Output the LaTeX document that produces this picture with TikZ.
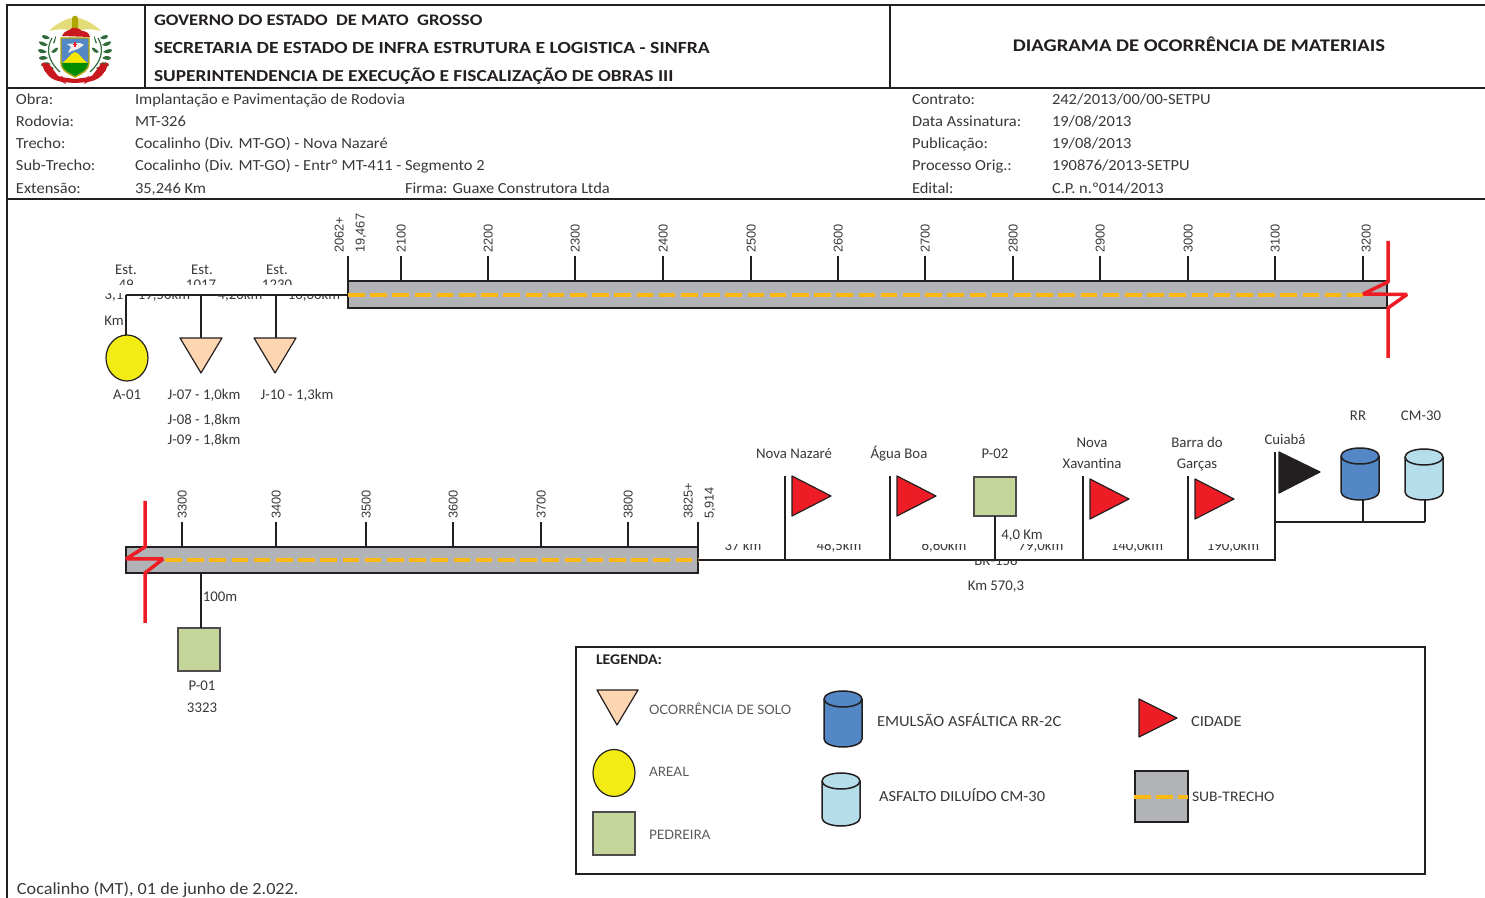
\documentclass[tikz,border=0pt]{standalone}
\usepackage{fontspec}
\setmainfont{Carlito}
\newfontfamily\infof[FakeStretch=1.07]{Carlito}
\newfontfamily\headf[FakeStretch=1.16]{Carlito}
\newfontfamily\arialf{Liberation Sans}
\newfontfamily\gothicf{Lato}
\usetikzlibrary{calc,shapes.geometric}
\definecolor{ink}{HTML}{231F20}
\definecolor{peach}{HTML}{FDD5B1}
\definecolor{sandy}{HTML}{F2EB14}
\definecolor{rockg}{HTML}{C5D69A}
\definecolor{roadg}{HTML}{B1B3B6}
\definecolor{dashc}{HTML}{FDB913}
\definecolor{redc}{HTML}{EE1C25}
\definecolor{rrblue}{HTML}{5387C5}
\definecolor{cmblue}{HTML}{B5DDEA}
\definecolor{txtc}{HTML}{3A3738}
\definecolor{wingc}{HTML}{E4DC78}
\definecolor{leafc}{HTML}{2F6B3A}
\tikzset{
  lbl/.style={inner sep=0,outer sep=0,text=txtc,text height=5pt,text depth=0pt,font=\fontsize{7.4}{9}\selectfont},
  infol/.style={lbl,anchor=west,yshift=-0.5pt,font=\infof\fontsize{7.7}{9}\selectfont},
  headt/.style={inner sep=0,outer sep=0,text=ink,anchor=west,yshift=-0.75pt,text height=5pt,text depth=0pt,font=\headf\bfseries\fontsize{8.3}{9}\selectfont},
  rotl/.style={inner sep=0,outer sep=0,text=txtc,rotate=90,anchor=west,text height=4.6pt,text depth=0pt,font=\arialf\fontsize{6.4}{8}\selectfont},
  gothl/.style={inner sep=0,outer sep=0,text=txtc!85,anchor=west,text height=5pt,text depth=0pt,yshift=-0.25pt,font=\gothicf\fontsize{6.5}{8}\selectfont},
  conn/.style={draw=ink,line width=1pt},
  frameln/.style={draw=ink,line width=1pt},
  roadb/.style={draw=ink,fill=roadg,line width=1pt,rectangle,inner sep=0,outer sep=0,anchor=north west},
  roaddash/.style={draw=dashc,line width=1.8pt,dash pattern=on 8.3pt off 2.8pt},
  breakm/.style={draw=redc,line width=1.75pt,line join=bevel},
  rockb/.style={draw=ink!80,fill=rockg,line width=0.6pt,rectangle,inner sep=0,outer sep=0,anchor=north west},
  sandb/.style={draw=ink,fill=sandy,line width=0.6pt,ellipse,inner sep=0,outer sep=0},
  tri/.style={draw=ink,line width=0.6pt,line join=round},
}
% cylinder: name, x1, x2, top, bottom, colour
\newcommand{\tank}[6]{%
  \filldraw[draw=ink,fill=#6,line width=0.75pt]
    (#2,#4+8) -- (#2,#5-8) arc[start angle=180,end angle=360,x radius={(#3-#2)/2},y radius=-8]
    -- (#3,#4+8) arc[start angle=0,end angle=180,x radius={(#3-#2)/2},y radius=-8] -- cycle;
  \draw[draw=ink,line width=0.75pt] (#2,#4+8) arc[start angle=180,end angle=360,x radius={(#3-#2)/2},y radius=-8];
  \coordinate (#1) at ({(#2+#3)/2},#5);
}
% clipped text: name, x, y, clip top, clip bottom, text
\newcommand{\cuttxt}[6]{%
  \begin{scope}\clip ({#2-60},#4) rectangle ({#2+60},#5);
  \node[lbl] (#1) at (#2,#3) {#6};\end{scope}}
\begin{document}
\begin{tikzpicture}[x=0.5pt,y=-0.5pt]
\useasboundingbox (0,0) rectangle (1485,898);
% frame
\coordinate (fTL) at (7,5); \coordinate (fTR) at (1485,5);
\coordinate (fBL) at (7,898);
\coordinate (h1L) at (7,88); \coordinate (h1R) at (1485,88);
\coordinate (h2L) at (7,199); \coordinate (h2R) at (1485,199);
\coordinate (v1T) at (145,5); \coordinate (v1B) at (145,88);
\coordinate (v2T) at (890,5); \coordinate (v2B) at (890,88);
\draw[frameln] (fTR) -- (fTL) -- (fBL);
\draw[frameln] (h1L) -- (h1R);
\draw[frameln] (h2L) -- (h2R);
\draw[frameln] (v1T) -- (v1B);
\draw[frameln] (v2T) -- (v2B);
% coat of arms
\begin{scope}
 % laurels
 \foreach \s in {1,-1}{
  \begin{scope}[shift={(75,0)},xscale=\s]
   \draw[draw=leafc,line width=0.6pt] (15,72) .. controls (26,62) and (30,50) .. (23,38);
   \foreach \a/\b/\c/\d in {25/38/33/36, 27/45/36/42, 28/52/37/50, 27/58/36/58, 24/64/34/65, 21/68/29/71, 22/43/19/36,24/52/17/48}{
     \fill[leafc] (\a,\b) .. controls ({(\a+\c)/2},{\b-4}) and (\c,\d-1) .. (\c,\d) .. controls (\c,\d+2) and ({(\a+\c)/2},{\b+3}) .. (\a,\b);
   }
   \draw[draw=redc!85!black,line width=1.6pt] (28,64) -- (16,80);
   \draw[draw=redc!85!black,line width=1.6pt] (32,63) -- (29,70) -- (22,76);
  \end{scope}
 }
 % ribbon
 \fill[redc!85!black] (47,63) .. controls (52,78) and (62,77) .. (75,79) .. controls (88,77) and (98,78) .. (103,63) -- (107,66) .. controls (102,82) and (90,82) .. (75,83) .. controls (60,82) and (48,82) .. (43,66) -- cycle;
 \fill[redc!85!black] (62,76) -- (66,84) -- (58,80) -- cycle;
 \fill[redc!85!black] (88,76) -- (84,84) -- (92,80) -- cycle;
 % eagle
 \fill[wingc] (49,31) .. controls (56,24) and (64,20) .. (71,18) -- (75,27) -- (79,18) .. controls (86,20) and (94,24) .. (101,31) .. controls (92,29) and (84,28) .. (75,32) .. controls (66,28) and (58,29) .. (49,31) -- cycle;
 \fill[olive!70!yellow] (72,28) -- (72,18) .. controls (73,15) and (77,15) .. (78,18) -- (78,28) -- cycle;
 % red cap
 \fill[redc!85!black] (62,36) .. controls (64,30) and (70,31) .. (72,28) .. controls (76,27) and (80,29) .. (82,31) .. controls (86,31) and (89,33) .. (90,37) -- cycle;
 % shield
 \filldraw[draw=olive!70!yellow,line width=0.7pt,fill=rrblue] (61,38) -- (89,38) -- (89,62) .. controls (89,71) and (82,73) .. (75,77) .. controls (68,73) and (61,71) .. (61,62) -- cycle;
 \fill[yellow!90!olive] (62,63) .. controls (68,60) and (70,53) .. (75,52) .. controls (80,53) and (82,60) .. (88,63) -- cycle;
 \fill[green!55!black] (62,63) -- (88,63) .. controls (88,70) and (81,72) .. (75,76) .. controls (69,72) and (62,70) .. (62,63) -- cycle;
 \fill[white!85!gray] (67,44) -- (80,43) -- (84,45) -- (78,49) -- (72,51) -- (68,53) -- (71,47) -- cycle;
 \fill[redc] (74.2,42) rectangle (75.8,47); \fill[redc] (73,43.7) rectangle (77,45.3);
\end{scope}
% header
\node[headt,font=\headf\bfseries\fontsize{8.05}{9}\selectfont] (g1) at (154,19) {GOVERNO DO ESTADO\ \ DE MATO\ \ GROSSO};
\node[headt,font=\headf\bfseries\fontsize{8.5}{9}\selectfont] (g2) at (154,47) {SECRETARIA DE ESTADO DE INFRA ESTRUTURA E LOGISTICA - SINFRA};
\node[headt,font=\headf\bfseries\fontsize{8.35}{9}\selectfont] (g3) at (154,75) {SUPERINTENDENCIA DE EXECUÇÃO E FISCALIZAÇÃO DE OBRAS III};
\node[headt,anchor=center,yshift=-0.25pt,font=\headf\bfseries\fontsize{8.9}{10}\selectfont] (gt) at (1199,45) {DIAGRAMA DE OCORRÊNCIA DE MATERIAIS};
% info
\foreach \n/\y/\a/\b in {a/99/Obra:/{Implantação e Pavimentação de Rodovia},
  b/121/Rodovia:/MT-326,
  c/143/Trecho:/{Cocalinho (Div. MT-GO) - Nova Nazaré},
  d/165/Sub-Trecho:/{Cocalinho (Div. MT-GO) - Entrº MT-411 - Segmento 2},
  e/188/Extensão:/{35,246 Km}}{
  \node[infol] (i\n1) at (16,\y) {\a};
  \node[infol] (i\n2) at (135,\y) {\b};
}
\node[infol] (firma) at (405,188) {Firma: Guaxe Construtora Ltda};
\foreach \n/\y/\a/\b in {a/99/Contrato:/{242/2013/00/00-SETPU},
  b/121/Data Assinatura:/{19/08/2013},
  c/143/Publicação:/{19/08/2013},
  d/165/Processo Orig.:/{190876/2013-SETPU},
  e/188/Edital:/{C.P. n.º014/2013}}{
  \node[infol] (j\n1) at (912,\y) {\a};
  \node[infol] (j\n2) at (1052,\y) {\b};
}
% road 1
\node[roadb,minimum width=1039*0.5pt,minimum height=27*0.5pt] (road1) at (348,281) {};
\coordinate (d1a) at (348,295); \coordinate (d1b) at (1363,295);
\draw[roaddash] (d1a) -- (d1b);
\foreach \k/\x/\lx in {2100/401/401,2200/488/488,2300/575/575,2400/663/663,2500/751/751,2600/838/838,2700/925/925,2800/1013/1013,2900/1100/1100,3000/1188/1188,3100/1275/1275,3200/1363/1366}{
  \coordinate (t\k) at (\x,256);
  \draw[conn] (t\k) -- (t\k |- road1.north);
  \node[rotl] (l\k) at (\lx,253) {\k};
}
\coordinate (t2062) at (348,256);
\draw[conn] (t2062) -- (road1.north west);
\node[rotl] (l2062) at (339,253) {2062+};
\node[rotl] (l2062b) at (360,253) {19,467};
% break 1
\coordinate (b1a) at (1388,241); \coordinate (b1b) at (1388,282); \coordinate (b1c) at (1363,294);
\coordinate (b1d) at (1407,294.5); \coordinate (b1e) at (1388,308); \coordinate (b1f) at (1388,358);
\draw[breakm] (b1a) -- (b1b) -- (b1c) -- (b1d) -- (b1e) -- (b1f);
% left branch
\coordinate (br0) at (126,295);
\coordinate (br1) at (201,295);
\coordinate (br2) at (276,295);
\node[sandb,minimum width=42*0.5pt,minimum height=46*0.5pt] (a01) at (127,358) {};
\coordinate (tj7) at (201,338);
\coordinate (tj10) at (276,338);
\draw[conn] (br0) -- (d1a);
\draw[conn] (a01.north -| br0) -- (br0);
\draw[conn] (br1) -- (tj7);
\draw[conn] (br2) -- (tj10);
\filldraw[tri,fill=peach] (180,338) -- (222,338) -- (201,373) -- cycle;
\filldraw[tri,fill=peach] (254,338) -- (296,338) -- (275,373) -- cycle;
\node[lbl] (e1) at (126,270) {Est.};
\node[lbl] (e2) at (202,270) {Est.};
\node[lbl] (e3) at (277,270) {Est.};
\cuttxt{n49}{126}{285}{279}{285}{49}
\cuttxt{n1017}{201}{285}{279}{285}{1017}
\cuttxt{n1230}{277}{285}{279}{285}{1230}
\cuttxt{km3}{114}{295}{294}{305}{3,1}
\cuttxt{n195}{164}{295}{296}{301}{19,50km}
\cuttxt{n42}{240}{295}{296}{301}{4,20km}
\cuttxt{n168}{314}{295}{296}{301}{16,60km}
\node[lbl] (kmw) at (114,321) {Km};
\node[lbl] (la01) at (127,395) {A-01};
\node[lbl] (lj7) at (204,395) {J-07 - 1,0km};
\node[lbl] (lj8) at (204,420) {J-08 - 1,8km};
\node[lbl] (lj9) at (204,440) {J-09 - 1,8km};
\node[lbl] (lj10) at (297,395) {J-10 - 1,3km};
% road 2
\node[roadb,minimum width=572*0.5pt,minimum height=26*0.5pt] (road2) at (126,547) {};
\coordinate (d2a) at (165,560); \coordinate (d2b) at (698,560);
\draw[roaddash] (d2a) -- (d2b);
\foreach \k/\x in {3300/182,3400/276,3500/366,3600/453,3700/541,3800/628}{
  \coordinate (t\k) at (\x,522);
  \draw[conn] (t\k) -- (t\k |- road2.north);
  \node[rotl] (l\k) at (\x,519) {\k};
}
\coordinate (t3825) at (698,522);
\draw[conn] (t3825) -- (road2.north east);
\node[rotl] (l3825) at (688,519) {3825+};
\node[rotl] (l3825b) at (709,519) {5,914};
% break 2
\coordinate (b2a) at (145,501); \coordinate (b2b) at (145,547); \coordinate (b2c) at (126,559);
\coordinate (b2d) at (163,559); \coordinate (b2e) at (145,573); \coordinate (b2f) at (145,623);
\draw[breakm] (b2a) -- (b2b) -- (b2c) -- (b2d) -- (b2e) -- (b2f);
% P-01
\node[rockb,minimum width=42*0.5pt,minimum height=43*0.5pt] (p01) at (178,628) {};
\coordinate (p01s) at (201,573);
\draw[conn] (p01s) -- (p01s |- p01.north);
\node[lbl] (l100) at (220,597) {100m};
\node[lbl] (lp01) at (202,685) {P-01};
\node[lbl] (l3323) at (202,707) {3323};
% main line 2
\coordinate (m0) at (698,560); \coordinate (m5) at (1276,560);
\draw[conn] (m0) -- (m5);
\foreach \n/\x/\y in {f1/785/476,f2/890/476,f3/1083/479,f4/1188/479}{
  \coordinate (\n a) at (\x,476);
  \coordinate (\n b) at (\x,560);
  \draw[conn] (\n a) -- (\n b);
  \filldraw[tri,fill=redc] ({\x+7},\y) -- ({\x+7},{\y+40}) -- ({\x+46},{\y+20}) -- cycle;
}
\node[rockb,minimum width=42*0.5pt,minimum height=39*0.5pt] (p02) at (974,477) {};
\coordinate (p02b) at (995,560);
\draw[conn] (p02b |- p02.south) -- (p02b);
\coordinate (cuia) at (1275,452); \coordinate (cuib) at (1275,560);
\draw[conn] (cuia) -- (cuib);
\filldraw[draw=ink,fill=ink,line width=0.6pt,line join=round] (1279,452) -- (1279,493) -- (1320,472) -- cycle;
\tank{rr}{1341}{1379}{448}{500}{rrblue}
\tank{cm}{1405}{1443}{449}{500}{cmblue}
\coordinate (h0) at (1275,522); \coordinate (h1) at (1363,522); \coordinate (h2) at (1425,522);
\draw[conn] (h0) -- (h2);
\draw[conn] (h1) -- (rr -| h1);
\draw[conn] (h2) -- (cm -| h2);
\node[lbl] (lnn) at (794,454) {Nova Nazaré};
\node[lbl] (lab) at (899,454) {Água Boa};
\node[lbl] (lp02) at (995,454) {P-02};
\node[lbl] (lnx1) at (1092,443) {Nova};
\node[lbl] (lnx2) at (1092,464) {Xavantina};
\node[lbl] (lbg1) at (1197,443) {Barra do};
\node[lbl] (lbg2) at (1197,464) {Garças};
\node[lbl] (lcui) at (1285,440) {Cuiabá};
\node[lbl] (lrr) at (1358,416) {RR};
\node[lbl] (lcm) at (1421,416) {CM-30};
\node[lbl] (l4km) at (1022,535) {4,0 Km};
\cuttxt{d37}{743}{546}{545}{552}{37 km}
\cuttxt{d48}{839}{546}{545}{552}{48,5km}
\cuttxt{d66}{944}{546}{545}{552}{6,60km}
\cuttxt{d79}{1041}{546}{545}{552}{79,0km}
\cuttxt{d140}{1137}{546}{545}{552}{140,0km}
\cuttxt{d190}{1233}{546}{545}{552}{190,0km}
\cuttxt{dbr}{996}{561}{561}{567}{BR-158}
\node[lbl] (l570) at (996,586) {Km 570,3};
% legend
\node[draw=ink,line width=1pt,rectangle,inner sep=0,outer sep=0,anchor=north west,minimum width=849*0.5pt,minimum height=227*0.5pt] (legbox) at (576,647) {};
\node[infol,text=ink,font=\infof\bfseries\fontsize{7.4}{9}\selectfont] (legt) at (596,659) {LEGENDA:};
\filldraw[tri,fill=peach] (597,690) -- (638,690) -- (617,725) -- cycle;
\node[gothl] (lg1) at (649,709) {OCORRÊNCIA DE SOLO};
\node[sandb,minimum width=42*0.5pt,minimum height=47*0.5pt] (lgc) at (614,773) {};
\node[gothl] (lg2) at (649,771) {AREAL};
\node[rockb,minimum width=42*0.5pt,minimum height=43*0.5pt] (lgs) at (593,812) {};
\node[gothl] (lg3) at (649,834) {PEDREIRA};
\tank{lgrr}{824}{862}{691}{747}{rrblue}
\node[infol] (lg4) at (877,720) {EMULSÃO ASFÁLTICA RR-2C};
\tank{lgcm}{822}{860}{773}{826}{cmblue}
\node[infol] (lg5) at (879,795) {ASFALTO DILUÍDO CM-30};
\filldraw[tri,fill=redc] (1139,699) -- (1139,737) -- (1177,718) -- cycle;
\node[infol] (lg6) at (1191,720) {CIDADE};
\node[roadb,minimum width=53*0.5pt,minimum height=51*0.5pt] (lgr) at (1135,771) {};
\coordinate (lgda) at (1134,797); \coordinate (lgdb) at (1188,797);
\draw[roaddash] (lgda) -- (lgdb);
\node[infol,font=\infof\fontsize{7.3}{9}\selectfont] (lg7) at (1192,795) {SUB-TRECHO};
% footer
\node[infol,font=\infof\fontsize{8.5}{10}\selectfont] (foot) at (17,888) {Cocalinho (MT), 01 de junho de 2.022.};
\end{tikzpicture}
\end{document}
